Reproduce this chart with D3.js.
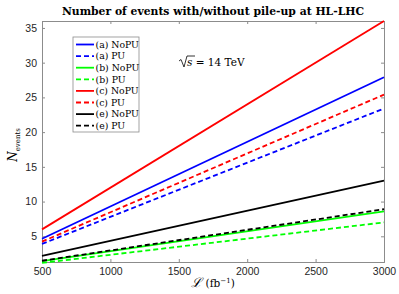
<!DOCTYPE html>
<html>
<head>
<meta charset="utf-8">
<script src="https://cdn.jsdelivr.net/npm/d3@7"></script>
<style>
  body { margin: 0; background: #fff; }
  svg { display: block; }
  .tick text { font-family: "Liberation Sans", Arial, sans-serif; font-size: 10.5px; fill: #262626; }
  .serif { font-family: "DejaVu Serif", "Liberation Serif", serif; }
</style>
</head>
<body>
<script>
// luminosity (fb^-1) at the two ends of each line
var lumi = [500, 3000];
var labels = ["(a) NoPU", "(a) PU", "(b) NoPU", "(b) PU", "(c) NoPU", "(c) PU", "(e) NoPU", "(e) PU"];
var colors = ["#0000ff", "#0000ff", "#00ff00", "#00ff00", "#ff0000", "#ff0000", "#000000", "#000000"];
var dashed = [false, true, false, true, false, true, false, true];
var aNoPU = [4.65, 27.9];
var aPU = [3.9, 23.4];
var bNoPU = [1.43, 8.6];
var bPU = [1.17, 7.0];
var cNoPU = [6.0, 36.0];
var cPU = [4.23, 25.4];
var eNoPU = [2.17, 13.0];
var ePU = [1.48, 8.9];
var series = [aNoPU, aPU, bNoPU, bPU, cNoPU, cPU, eNoPU, ePU];
var xTicks = [500, 1000, 1500, 2000, 2500, 3000];
var yTicks = [5, 10, 15, 20, 25, 30, 35];

var W = 399, H = 294;
var m = {left: 42, right: 15, top: 21, bottom: 32};

var svg = d3.select("body").append("svg").attr("width", W).attr("height", H);

var x = d3.scaleLinear().domain([500, 3000]).range([m.left, W - m.right]);
var y = d3.scaleLinear().domain([1.3, 36]).range([H - m.bottom, m.top]);

// axes (ticks pointing inward, box around the plot)
svg.append("g").attr("transform", "translate(0," + (H - m.bottom) + ")")
  .call(d3.axisBottom(x).tickValues(xTicks).tickSize(-3).tickPadding(6).tickFormat(d3.format("d")));
svg.append("g").attr("transform", "translate(0," + m.top + ")")
  .call(d3.axisTop(x).tickValues(xTicks).tickSize(-3).tickFormat(""));
svg.append("g").attr("transform", "translate(" + m.left + ",0)")
  .call(d3.axisLeft(y).tickValues(yTicks).tickSize(-3).tickPadding(5));
svg.append("g").attr("transform", "translate(" + (W - m.right) + ",0)")
  .call(d3.axisRight(y).tickValues(yTicks).tickSize(-3).tickFormat(""));
svg.selectAll(".domain").attr("stroke", "#8c8c8c");
svg.selectAll(".tick line").attr("stroke", "#8c8c8c");

var line = d3.line()
  .x(function(d, i) { return x(lumi[i]); })
  .y(function(d) { return y(d); });

svg.selectAll("path.series")
  .data(series)
  .enter()
  .append("path")
  .attr("class", "series")
  .attr("d", line)
  .attr("fill", "none")
  .attr("stroke", function(d, i) { return colors[i]; })
  .attr("stroke-width", 1.8)
  .attr("stroke-dasharray", function(d, i) { return dashed[i] ? "5,3" : null; });

// legend
var lg = svg.append("g").attr("transform", "translate(73,37)");
lg.append("rect").attr("width", 66).attr("height", 95)
  .attr("fill", "#fff").attr("stroke", "#8c8c8c").attr("stroke-width", 0.8);
labels.forEach(function(t, i) {
  var yy = 7.5 + i * 11.6;
  lg.append("line").attr("x1", 3).attr("x2", 21).attr("y1", yy).attr("y2", yy)
    .attr("stroke", colors[i]).attr("stroke-width", 1.8)
    .attr("stroke-dasharray", dashed[i] ? "5,3" : null);
  lg.append("text").attr("class", "serif").attr("x", 22.5).attr("y", yy + 3.3)
    .attr("font-size", 9.3).attr("fill", "#000").text(t);
});

// title
svg.append("text").attr("class", "serif").attr("x", 213).attr("y", 15)
  .attr("text-anchor", "middle").attr("font-size", 10.8).attr("font-weight", "bold")
  .text("Number of events with/without pile-up at HL-LHC");

// sqrt(s) annotation
var ann = svg.append("text").attr("class", "serif").attr("x", 187).attr("y", 66)
  .attr("font-size", 10.5);
ann.append("tspan").attr("font-style", "italic").text("s");
ann.append("tspan").text(" = 14  TeV");
svg.append("path").attr("d", "M179,61 L181,59.5 L184,67 L187,56 L195,56")
  .attr("fill", "none").attr("stroke", "#000").attr("stroke-width", 0.8);

// axis labels
var xl = svg.append("text").attr("class", "serif").attr("x", 213).attr("y", 287)
  .attr("text-anchor", "middle").attr("font-size", 10.5);
xl.append("tspan").attr("font-style", "italic").attr("font-size", 13).text("ℒ");
xl.append("tspan").text(" (fb");
xl.append("tspan").attr("dy", -4).attr("font-size", 7).text("−1");
xl.append("tspan").attr("dy", 4).text(")");

var yl = svg.append("text").attr("class", "serif")
  .attr("transform", "translate(17,145) rotate(-90)")
  .attr("text-anchor", "middle").attr("font-size", 12);
yl.append("tspan").attr("font-style", "italic").text("N");
yl.append("tspan").attr("dy", 3).attr("font-size", 7).text("events");
</script>
</body>
</html>
